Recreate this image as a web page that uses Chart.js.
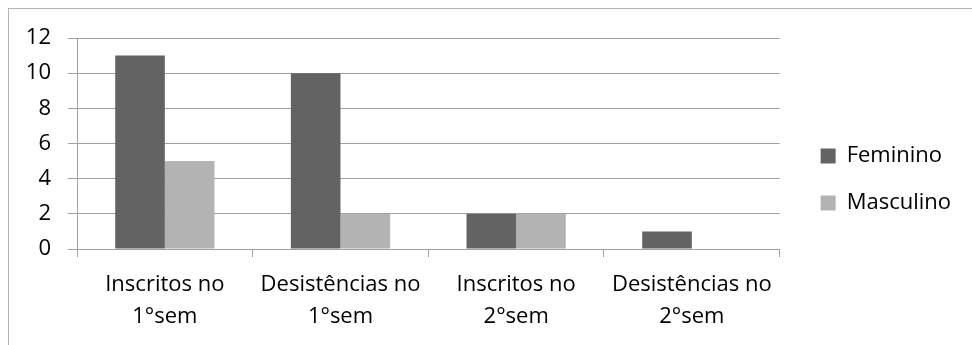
<!DOCTYPE html>
<html>
<head>
<meta charset="utf-8">
<script src="https://cdn.jsdelivr.net/npm/chart.js@4/dist/chart.umd.min.js"></script>
<style>
  html, body { margin: 0; padding: 0; background: #fff; overflow: hidden; }
  #frame { position: absolute; left: 8px; top: 8px; width: 2000px; height: 2000px;
           border-left: 1px solid #b4b4b4; border-top: 1px solid #b4b4b4; }
  #wrap { position: absolute; left: 0; top: 0; width: 972px; height: 345px; }
</style>
</head>
<body>
<div id="frame"></div>
<div id="wrap"><canvas id="chart"></canvas></div>
<script>
const categories = [
  ["Inscritos no", "1°sem"],
  ["Desistências no", "1°sem"],
  ["Inscritos no", "2°sem"],
  ["Desistências no", "2°sem"],
];
const feminino = [11, 10, 2, 1];
const masculino = [5, 2, 2, 0];
const yMin = 0;
const yMax = 12;
const yStep = 2;

const FONT = "'Open Sans', sans-serif";
const gridColor = "#a0a0a0";

// moves the legend a bit right/up after layout
const legendNudge = {
  id: "legendNudge",
  afterLayout(chart) {
    const lg = chart.legend;
    lg.left += 16;
    lg.right += 16;
    lg.top -= 12;
    lg.bottom -= 12;
  },
};

const ctx = document.getElementById("chart").getContext("2d");
new Chart(ctx, {
  type: "bar",
  data: {
    labels: categories,
    datasets: [
      {
        label: "Feminino",
        data: feminino,
        backgroundColor: "#636363",
        barPercentage: 1,
        categoryPercentage: 0.565,
      },
      {
        label: "Masculino",
        data: masculino,
        backgroundColor: "#b3b3b3",
        barPercentage: 1,
        categoryPercentage: 0.565,
      },
    ],
  },
  options: {
    responsive: true,
    maintainAspectRatio: false,
    animation: false,
    layout: { padding: { top: 38, left: 0, right: 27, bottom: 0 } },
    plugins: {
      legend: {
        position: "right",
        labels: {
          boxWidth: 15,
          boxHeight: 15,
          padding: 25,
          color: "#000",
          font: { family: FONT, size: 22 },
        },
      },
      tooltip: { enabled: false },
    },
    scales: {
      x: {
        grid: {
          offset: true,
          drawOnChartArea: false,
          tickLength: 8,
          color: gridColor,
        },
        border: { color: gridColor },
        ticks: {
          color: "#000",
          padding: 12,
          maxRotation: 0,
          font: { family: FONT, size: 22, lineHeight: 1.45 },
        },
        afterFit: (s) => { s.height = 96; },
      },
      y: {
        min: yMin,
        max: yMax,
        grid: { color: gridColor, tickLength: 9 },
        border: { color: gridColor },
        ticks: {
          stepSize: yStep,
          color: "#000",
          padding: 17,
          font: { family: FONT, size: 22 },
        },
        afterFit: (s) => { s.width = 77; },
      },
    },
  },
  plugins: [legendNudge],
});
</script>
</body>
</html>
